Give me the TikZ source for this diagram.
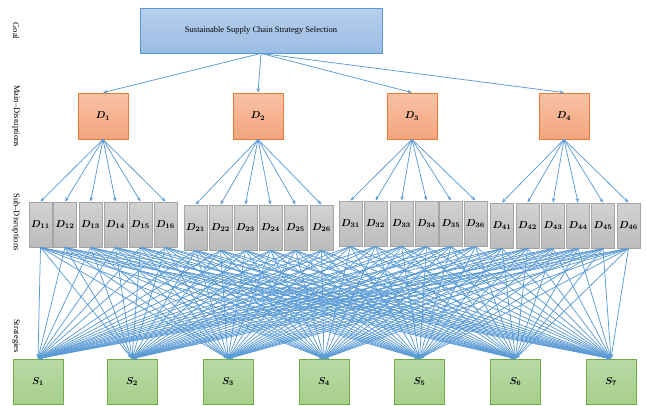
\documentclass[tikz,border=0pt]{standalone}
\usepackage{fontspec}
\setmainfont{Liberation Serif}
\usepackage{bm}
\usetikzlibrary{arrows.meta}
\definecolor{linecol}{HTML}{5B9BD5}
\definecolor{goaltop}{HTML}{B8D0EC}
\definecolor{goalbot}{HTML}{9ABCE4}
\definecolor{goalbd}{HTML}{5B9BD5}
\definecolor{dtop}{HTML}{F8C2A6}
\definecolor{dbot}{HTML}{F3A47E}
\definecolor{dbd}{HTML}{ED7D31}
\definecolor{stop}{HTML}{D2D2D2}
\definecolor{sbot}{HTML}{BCBCBC}
\definecolor{sbd}{HTML}{A5A5A5}
\definecolor{gtop}{HTML}{B9DAA6}
\definecolor{gbot}{HTML}{A6CF8C}
\definecolor{gbd}{HTML}{70AD47}
\tikzset{
  goalbox/.style={draw=goalbd, line width=0.8pt, top color=goaltop, bottom color=goalbot, minimum width=242pt, minimum height=45pt, inner sep=0pt, font=\fontsize{8.5}{10}\selectfont},
  mainbox/.style={draw=dbd, line width=0.8pt, top color=dtop, bottom color=dbot, minimum width=50pt, minimum height=46pt, inner sep=0pt},
  subbox/.style={draw=sbd, line width=0.8pt, top color=stop, bottom color=sbot, minimum width=23pt, minimum height=45pt, inner sep=0pt},
  stratbox/.style={draw=gbd, line width=0.8pt, top color=gtop, bottom color=gbot, minimum width=50pt, minimum height=45pt, inner sep=0pt},
  conn/.style={draw=linecol, line width=0.75pt, -{Stealth[length=4.5pt,width=3.5pt]}},
  sidelabel/.style={rotate=-90, inner sep=0pt, font=\fontsize{8.5}{10}\selectfont}
}
\begin{document}
\begin{tikzpicture}[x=1pt,y=-1pt]
\useasboundingbox (0,0) rectangle (646,405);
% side labels
\node[sidelabel] (lgoal) at (16,31) {Goal};
\node[sidelabel] (lmain) at (16,116) {Main–Disruptions};
\node[sidelabel] (lsub) at (16,222) {Sub–Disruptions};
\node[sidelabel] (lstrat) at (16,336) {Strategies};
% goal
\node[goalbox] (goal) at (261,30.5) {Sustainable Supply Chain Strategy Selection};
% main disruptions
\foreach \i/\x in {1/103,2/258,3/412,4/564}{
  \node[mainbox] (D\i) at (\x,116) {$\bm{D_{\i}}$};
}
% sub disruptions
\foreach \j/\x in {1/40.5,2/65,3/90.5,4/115.5,5/140.5,6/165.5}{
  \node[subbox] (D1\j) at (\x,224.5) {$\bm{D_{1\j}}$};
}
\foreach \j/\x in {1/195.5,2/220.5,3/245.5,4/270.5,5/295.5,6/321.5}{
  \node[subbox] (D2\j) at (\x,227.5) {$\bm{D_{2\j}}$};
}
\foreach \j/\x in {1/350.5,2/375.5,3/401.5,4/426.5,5/451,6/475.5}{
  \node[subbox] (D3\j) at (\x,223.5) {$\bm{D_{3\j}}$};
}
\foreach \j/\x in {1/502,2/527.5,3/553,4/578,5/603,6/628.5}{
  \node[subbox] (D4\j) at (\x,225.5) {$\bm{D_{4\j}}$};
}
% strategies
\foreach \k/\x in {1/38,2/132,3/228,4/324,5/419.5,6/515.5,7/611}{
  \node[stratbox] (S\k) at (\x,381.5) {$\bm{S_{\k}}$};
}
% connectors goal -> main
\foreach \i in {1,...,4}{
  \draw[conn] (goal.south) -- (D\i.north);
}
% main -> sub
\foreach \i in {1,...,4}{
  \foreach \j in {1,...,6}{
    \draw[conn] (D\i.south) -- (D\i\j.north);
  }
}
% sub -> strategies
\foreach \i in {1,...,4}{
  \foreach \j in {1,...,6}{
    \foreach \k in {1,...,7}{
      \draw[conn] (D\i\j.south) -- (S\k.north);
    }
  }
}
\end{tikzpicture}
\end{document}
